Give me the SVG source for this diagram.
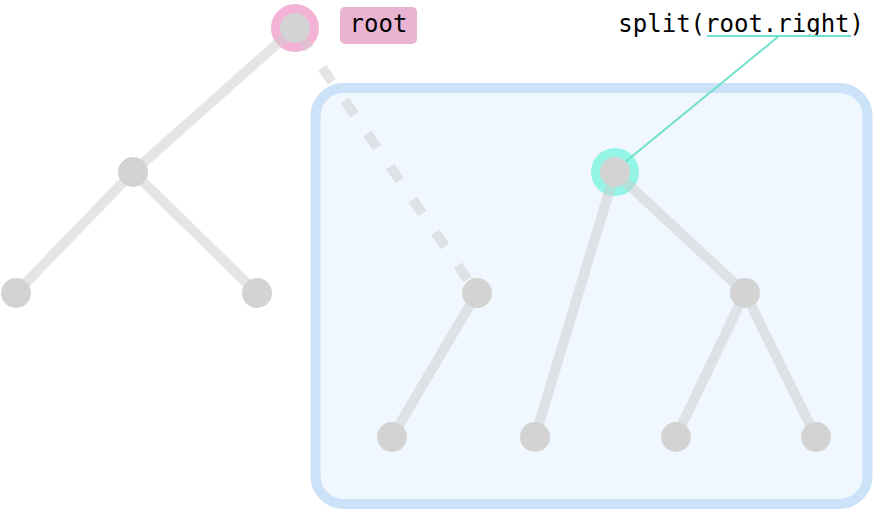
<svg xmlns="http://www.w3.org/2000/svg" width="874" height="511" viewBox="0 0 874 511">
<style>
.edge{stroke:#cccccc;stroke-opacity:0.5;stroke-width:10;fill:none}
.dash{stroke-dasharray:17 23;stroke-dashoffset:32}
.node{fill:#d3d3d3}
.mono{font-family:"DejaVu Sans Mono","Liberation Mono",monospace;font-size:24px;fill:#000}
</style>
<rect width="874" height="511" fill="#ffffff"/>
<g id="subtree-box">
<rect x="315.5" y="88" width="552" height="416" rx="28" ry="28" fill="#f0f7fe" stroke="#cbe2f9" stroke-width="10"/>
</g>
<g id="highlights">
<circle cx="295" cy="28" r="24" fill="#f3b3d6"/>
<circle cx="615" cy="172" r="24" fill="#94f5e6"/>
</g>
<g id="connectors">
<line class="edge" x1="295" y1="28" x2="133" y2="172"/>
<line class="edge" x1="133" y1="172" x2="16" y2="293"/>
<line class="edge" x1="133" y1="172" x2="257" y2="293"/>
<line class="edge dash" x1="295" y1="28" x2="477" y2="293"/>
<line class="edge" x1="477" y1="293" x2="392" y2="437"/>
<line class="edge" x1="615" y1="172" x2="535" y2="437"/>
<line class="edge" x1="615" y1="172" x2="745" y2="293"/>
<line class="edge" x1="745" y1="293" x2="676" y2="437"/>
<line class="edge" x1="745" y1="293" x2="816" y2="437"/>
<line x1="779" y1="36" x2="624" y2="163" stroke="#6ee0cc" stroke-width="2"/>
</g>
<g id="node-root"><circle class="node" cx="295" cy="28" r="15"/></g>
<g id="node-l"><circle class="node" cx="133" cy="172" r="15"/></g>
<g id="node-ll"><circle class="node" cx="16" cy="293" r="15"/></g>
<g id="node-lr"><circle class="node" cx="257" cy="293" r="15"/></g>
<g id="node-a"><circle class="node" cx="477" cy="293" r="15"/></g>
<g id="node-a-l"><circle class="node" cx="392" cy="437" r="15"/></g>
<g id="node-b"><circle class="node" cx="615" cy="172" r="15"/></g>
<g id="node-b-l"><circle class="node" cx="535" cy="437" r="15"/></g>
<g id="node-c"><circle class="node" cx="745" cy="293" r="15"/></g>
<g id="node-c-l"><circle class="node" cx="676" cy="437" r="15"/></g>
<g id="node-c-r"><circle class="node" cx="816" cy="437" r="15"/></g>
<g id="label-root">
<rect x="340" y="7" width="77" height="37" rx="5" ry="5" fill="#e8b4d2"/>
<text class="mono" x="378.5" y="32" text-anchor="middle">root</text>
</g>
<g id="label-split">
<text class="mono" x="864" y="32" text-anchor="end">split(root.right)</text>
<line x1="707" y1="36" x2="851" y2="36" stroke="#6ee0cc" stroke-width="2"/>
</g>
</svg>
